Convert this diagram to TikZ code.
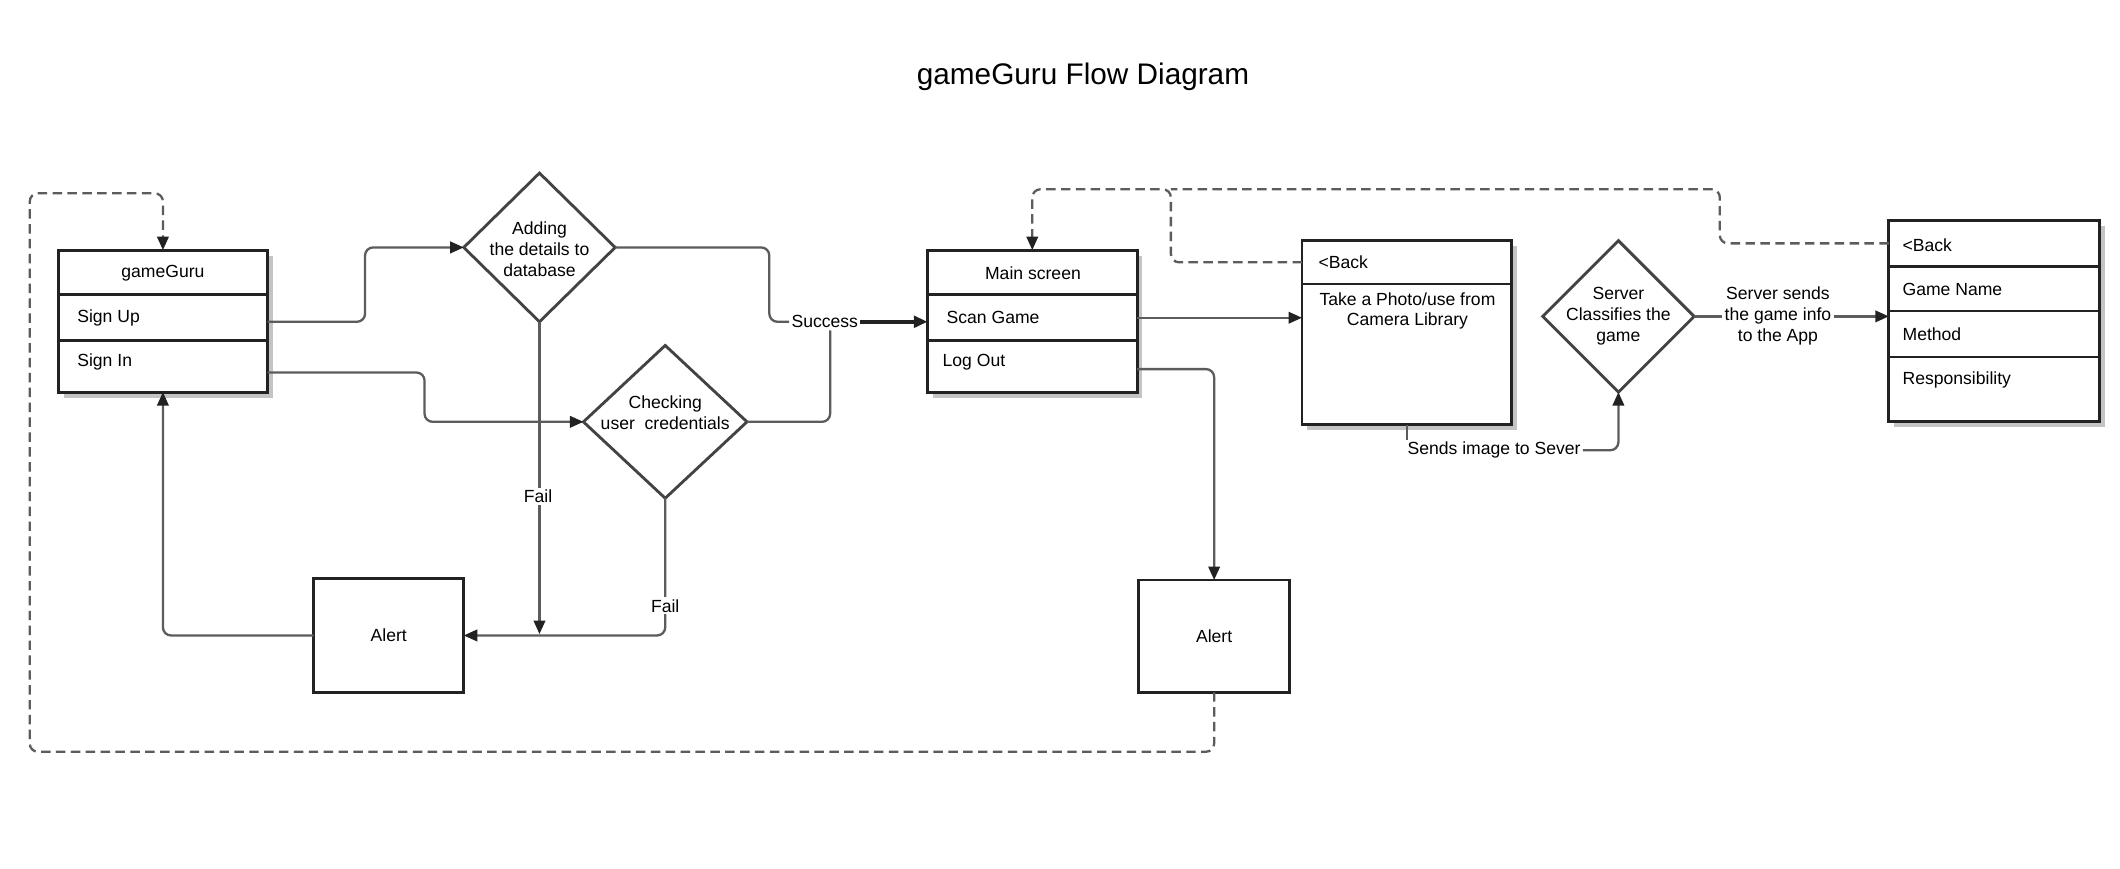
\documentclass[tikz,border=0pt]{standalone}
\usepackage{fontspec}
\setmainfont{Liberation Sans}
\usetikzlibrary{arrows.meta,shapes.geometric}
\definecolor{boxc}{HTML}{222222}
\definecolor{linec}{HTML}{5C5C5C}
\definecolor{shadc}{HTML}{C4C4C4}
\begin{document}
\begin{tikzpicture}[x=1pt,y=-1pt,
  txt/.style={font=\fontsize{13}{15.5}\selectfont, inner sep=0pt, align=center},
  lbl/.style={txt, fill=white, inner sep=1.5pt},
  row/.style={draw=boxc, line width=2.1pt, fill=white, minimum width=155pt, inner sep=0pt, outer sep=0pt, anchor=north west},
  dia/.style={diamond, aspect=1, draw=boxc!85!white, line width=2.1pt, fill=white, inner sep=0pt, outer sep=0pt},
  alertbox/.style={draw=boxc, line width=2.1pt, fill=white, minimum width=111pt, minimum height=84pt, inner sep=0pt, outer sep=0pt, anchor=north west, font=\fontsize{13}{15.5}\selectfont},
  conn/.style={draw=linec, line width=1.7pt, rounded corners=6pt},
  tip/.style={-{Triangle[length=10pt,width=8.5pt,color=boxc]}},
  arr/.style={conn, tip},
  dsh/.style={draw=linec, line width=1.7pt, dash pattern=on 7pt off 4pt, rounded corners=6pt}
]
\fill[white] (0,0) rectangle (1568,642);
\useasboundingbox (0,0) rectangle (1568,642);

\node[font=\fontsize{22}{26}\selectfont, inner sep=0pt] (title) at (801,57) {gameGuru Flow Diagram};

% gameGuru box
\fill[shadc] (47,189) rectangle (202,294);
\node[row, minimum height=33pt] (gg) at (43,185) {};
\node[row, minimum height=34pt] (ggsu) at (43,218) {};
\node[row, minimum height=38pt] (ggsi) at (43,252) {};
\node[txt] (ggt) at (120.5,202) {gameGuru};
\node[txt, anchor=west] (ggsut) at (57,235) {Sign Up};
\node[txt, anchor=west] (ggsit) at (57,268) {Sign In};

% Main screen box
\fill[shadc] (690,189) rectangle (845,294);
\node[row, minimum height=33pt] (ms) at (686,185) {};
\node[row, minimum height=34pt] (mssg) at (686,218) {};
\node[row, minimum height=38pt] (mslo) at (686,252) {};
\node[txt] (mst) at (764,202) {Main screen};
\node[txt, anchor=west] (mssgt) at (700,235) {Scan Game};
\node[txt, anchor=west] (mslot) at (697,268) {Log Out};

% Camera box
\fill[shadc] (967,182) rectangle (1122,318);
\node[row, minimum height=32pt] (cb) at (963,178) {};
\node[row, minimum height=104pt] (cbb) at (963,210) {};
\node[txt, anchor=west] (cbt) at (975,194) {<Back};
\node[txt] (cbbt) at (1041,230) {Take a Photo/use from\\Camera Library};

% Right box
\fill[shadc] (1401,167) rectangle (1557,316);
\node[row, minimum width=156pt, minimum height=34pt] (rb1) at (1397,163) {};
\node[row, minimum width=156pt, minimum height=33pt] (rb2) at (1397,197) {};
\node[row, minimum width=156pt, minimum height=34pt] (rb3) at (1397,230) {};
\node[row, minimum width=156pt, minimum height=48pt] (rb4) at (1397,264) {};
\node[txt, anchor=west] (rb1t) at (1407,181) {<Back};
\node[txt, anchor=west] (rb2t) at (1407,214) {Game Name};
\node[txt, anchor=west] (rb3t) at (1407,247) {Method};
\node[txt, anchor=west] (rb4t) at (1407,281) {Responsibility};

% Diamonds
\node[dia, minimum width=112pt, minimum height=110pt] (d1) at (399,183) {};
\node[txt] (d1t) at (399,184) {Adding\\the details to\\database};
\node[dia, minimum width=121pt, minimum height=113pt] (d2) at (492,312) {};
\node[txt] (d2t) at (492,305) {Checking\\user\ \ credentials};
\node[dia, minimum width=112pt, minimum height=112pt] (d3) at (1197,234) {};
\node[txt] (d3t) at (1197,234) {Server\\Classifies the\\game};

% Alerts
\node[alertbox] (a1) at (232,428) {Alert};
\node[alertbox, minimum width=112pt, minimum height=83pt] (a2) at (842,429) {Alert};

% Labels
\node[lbl] (succ) at (610,238) {Success};
\node[lbl] (sends) at (1105,333) {Sends image to Sever};
\node[lbl] (srv) at (1315,234) {Server sends\\the game info\\to the App};

% Connectors
\draw[arr] ([yshift=-3pt]ggsu.east) -- (270,238) -- (270,183) -- (d1.west);
\draw[arr] ([yshift=-4.5pt]ggsi.east) -- (314,275.5) -- (314,312) -- (d2.west);
\draw[conn] (d1.east) -- (569,183) -- (569,238) -- (succ.west);
\draw[conn] (d2.east) -- (614,312) -- ([xshift=4pt]succ.south);
\draw[conn, tip, draw=boxc, line width=2.8pt] (succ.east) -- (succ.east -| mssg.west);
\draw[arr] (d1.south) -- (399,469);
\draw[arr] (d2.south) -- (492,470) -- (a1.east);
\draw[arr] (a1.west) -- (120.5,470) -- (ggsi.south);
\draw[arr] (mssg.east) -- (mssg.east -| cbb.west);
\draw[arr] ([yshift=-2pt]mslo.east) -- (898,273) -- (a2.north);
\draw[conn] (cbb.south) -- (cbb.south |- sends.north);
\draw[arr] (sends.east) -- (1197,333) -- (d3.south);
\draw[conn] (d3.east) -- (srv.west);
\draw[arr] (srv.east) -- (srv.east -| rb3.west);

% Dashed returns
\draw[dsh, tip] (a2.south) -- (898,556) -- (22,556) -- (22,143) -- (120.5,143) -- (gg.north);
\draw[dsh, tip] (cb.west) -- (866,194) -- (866,140) -- (763.5,140) -- (ms.north);
\draw[dsh] (rb1.west) -- (1272,180) -- (1272,140) -- (866,140);

% labels on top
\node[lbl] at (succ) {Success};
\node[lbl] (fail1) at (398,367) {Fail};
\node[lbl] (fail2) at (492,448) {Fail};
\end{tikzpicture}
\end{document}
